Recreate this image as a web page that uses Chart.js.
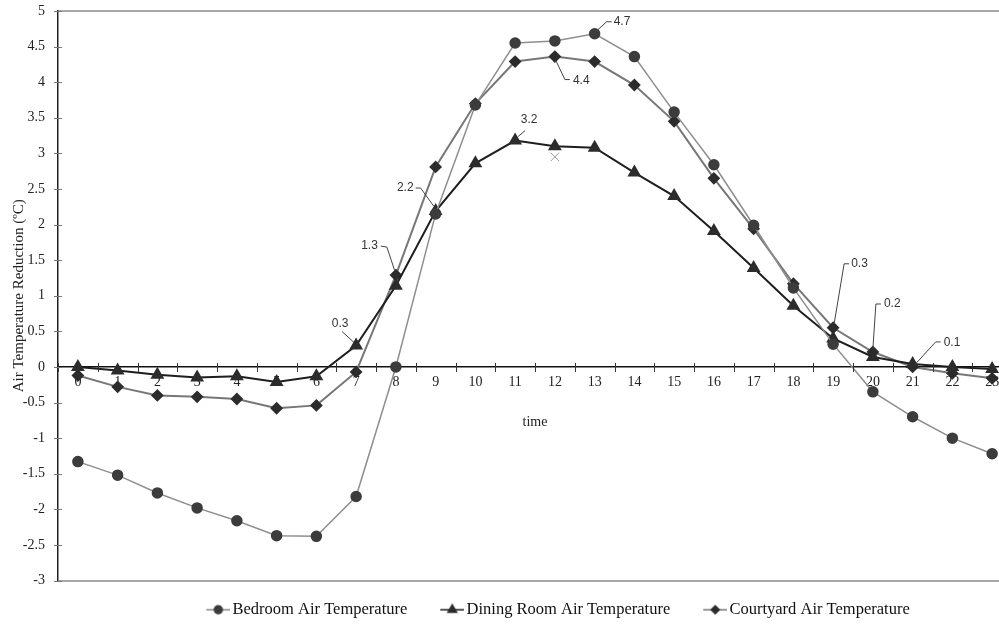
<!DOCTYPE html>
<html>
<head>
<meta charset="utf-8">
<script src="https://cdn.jsdelivr.net/npm/chart.js@4/dist/chart.umd.min.js"></script>
<style>
  html, body { margin: 0; padding: 0; background: #fff; overflow: hidden; }
  #wrap { width: 1020px; height: 624px; position: relative; }
</style>
</head>
<body>
<div id="wrap"><canvas id="chart"></canvas></div>
<script>
// heures de la journée
const hours = ['0','1','2','3','4','5','6','7','8','9','10','11','12','13','14','15','16','17','18','19','20','21','22','23'];

// valeurs (réduction de température, °C)
const bedroom = [-1.33, -1.52, -1.77, -1.98, -2.16, -2.37, -2.38, -1.82, 0.0, 2.15, 3.68, 4.55, 4.58, 4.68,
                 4.36, 3.58, 2.84, 1.99, 1.11, 0.32, -0.35, -0.70, -1.0, -1.22];
const diningRoom = [0.0, -0.05, -0.11, -0.15, -0.13, -0.21, -0.13, 0.30, 1.14, 2.19, 2.86, 3.18, 3.10, 3.08,
                    2.73, 2.40, 1.91, 1.39, 0.86, 0.40, 0.14, 0.04, 0.0, -0.03];
const courtyard = [-0.12, -0.28, -0.40, -0.42, -0.45, -0.58, -0.54, -0.07, 1.29, 2.81, 3.70, 4.29, 4.36, 4.29,
                   3.96, 3.45, 2.65, 1.94, 1.17, 0.55, 0.21, 0.0, -0.09, -0.16];
// petite croix isolée vers 12h
const strayMark = [null, null, null, null, null, null, null, null, null, null, null, null, 2.95];

const seriesNames = ['Bedroom Air Temperature', 'Dining Room Air Temperature', 'Courtyard Air Temperature'];
const yTicks = [-3, -2.5, -2, -1.5, -1, -0.5, 0, 0.5, 1, 1.5, 2, 2.5, 3, 3.5, 4, 4.5, 5];

// étiquettes de valeur : texte, série, index
const calloutText = ['4.7', '4.4', '3.2', '2.2', '1.3', '0.3', '0.3', '0.2', '0.1'];
const calloutSeries = [0, 2, 1, 1, 2, 1, 2, 2, 2];
const calloutIndex = [13, 12, 11, 9, 8, 7, 19, 20, 21];

// géométrie des traits de rappel (décalages en px par rapport au point)
// [debutX, debutY, coudeX, coudeY, finX, finY, texteX, texteY, alignement]
const leaderGeom = [
    [1, -2, 12, -12, 17, -12, 19, -12, 'left'],
    [1, 4, 10, 23, 15, 23, 18, 24, 'left'],
    [3, -4, 10, -10, 10, -10, 14, -21, 'center'],
    [-2, -5, -15, -23, -20, -23, -22, -23, 'right'],
    [-1, -4, -9, -28, -15, -29, -18, -29, 'right'],
    [-2, -3, -14, -14, -14, -14, -16, -22, 'center'],
    [1, -4, 11, -64, 16, -64, 18, -64, 'left'],
    [0, -3, 3, -48, 8, -48, 11, -48, 'left'],
    [2, -2, 23, -25, 28, -25, 31, -24, 'left']
];

const serif = 'Liberation Serif';

// icône de légende : trait + marqueur, calée à droite d'un canevas plus large
function legendIcon(style, lineColor, pointColor, radius) {
    const c = document.createElement('canvas');
    c.width = 53;
    c.height = 14;
    const g = c.getContext('2d');
    g.strokeStyle = lineColor;
    g.lineWidth = 1.5;
    g.beginPath();
    g.moveTo(29, 7);
    g.lineTo(53, 7);
    g.stroke();
    g.fillStyle = pointColor;
    g.strokeStyle = pointColor;
    Chart.helpers.drawPoint(g, { pointStyle: style, radius: radius, rotation: 0, borderWidth: 1 }, 41, 7);
    return c;
}

const icons = [
    legendIcon('circle', '#888', '#3c3c3c', 4),
    legendIcon('triangle', '#1e1e1e', '#2c2c2c', 5),
    legendIcon('rectRot', '#777', '#2c2c2c', 4)
];

// traits de graduation qui traversent les axes
const crossTicks = {
    id: 'crossTicks',
    afterDraw(chart) {
        const ctx = chart.ctx;
        const x = chart.scales.x, y = chart.scales.y;
        const y0 = y.getPixelForValue(0);
        const step = x.getPixelForValue(1) - x.getPixelForValue(0);
        ctx.save();
        ctx.strokeStyle = '#333';
        ctx.lineWidth = 1;
        for (let i = 0; i <= hours.length; i++) {
            const px = Math.round(x.getPixelForValue(0) + (i - 0.5) * step) + 0.5;
            ctx.beginPath();
            ctx.moveTo(px, y0 - 4);
            ctx.lineTo(px, y0 + 5);
            ctx.stroke();
        }
        ctx.strokeStyle = '#777';
        const left = chart.chartArea.left;
        yTicks.forEach(v => {
            const py = Math.round(y.getPixelForValue(v)) + 0.5;
            ctx.beginPath();
            ctx.moveTo(left - 4, py);
            ctx.lineTo(left + 4, py);
            ctx.stroke();
        });
        ctx.restore();
    }
};

// étiquettes avec traits de rappel
const callouts = {
    id: 'callouts',
    afterDatasetsDraw(chart) {
        const ctx = chart.ctx;
        ctx.save();
        ctx.font = '12px "Liberation Sans"';
        ctx.textBaseline = 'middle';
        calloutText.forEach((txt, k) => {
            const pt = chart.getDatasetMeta(calloutSeries[k]).data[calloutIndex[k]];
            const g = leaderGeom[k];
            ctx.strokeStyle = '#444';
            ctx.lineWidth = 1;
            ctx.beginPath();
            ctx.moveTo(pt.x + g[0], pt.y + g[1]);
            ctx.lineTo(pt.x + g[2], pt.y + g[3]);
            ctx.lineTo(pt.x + g[4], pt.y + g[5]);
            ctx.stroke();
            ctx.fillStyle = '#333';
            ctx.textAlign = g[8];
            ctx.fillText(txt, pt.x + g[6], pt.y + g[7]);
        });
        ctx.restore();
    }
};

// décale la légende vers la droite / le bas
const legendShift = {
    id: 'legendShift',
    afterLayout(chart) {
        const lg = chart.legend;
        lg.left += 37;
        lg.right += 37;
        lg.top += 11;
        lg.bottom += 11;
    }
};

const ctx = document.getElementById('chart').getContext('2d');
const tempChart = new Chart(ctx, {
    type: 'line',
    data: {
        labels: hours,
        datasets: [{
            label: seriesNames[0],
            data: bedroom,
            borderColor: '#8e8e8e',
            borderWidth: 1.5,
            pointStyle: 'circle',
            pointRadius: 5,
            pointBackgroundColor: '#3c3c3c',
            pointBorderColor: '#3c3c3c',
            tension: 0
        }, {
            label: seriesNames[1],
            data: diningRoom,
            borderColor: '#1e1e1e',
            borderWidth: 2,
            pointStyle: 'triangle',
            pointRadius: 6,
            pointBackgroundColor: '#2c2c2c',
            pointBorderColor: '#2c2c2c',
            tension: 0
        }, {
            label: seriesNames[2],
            data: courtyard,
            borderColor: '#777',
            borderWidth: 2,
            pointStyle: 'rectRot',
            pointRadius: 5,
            pointBackgroundColor: '#2c2c2c',
            pointBorderColor: '#2c2c2c',
            tension: 0
        }, {
            label: 'stray',
            data: strayMark,
            showLine: false,
            pointStyle: 'crossRot',
            pointRadius: 6,
            pointBorderColor: '#999',
            pointBorderWidth: 1
        }]
    },
    options: {
        responsive: true,
        maintainAspectRatio: false,
        animation: false,
        clip: false,
        layout: { padding: { top: 11, right: 1, bottom: 7, left: 0 } },
        plugins: {
            tooltip: { enabled: false },
            legend: {
                position: 'bottom',
                labels: {
                    usePointStyle: true,
                    pointStyleWidth: 41,
                    padding: 10,
                    color: '#111',
                    font: { family: serif, size: 16.5 },
                    generateLabels: (chart) => seriesNames.map((name, i) => ({
                        text: name,
                        pointStyle: icons[i],
                        fontColor: '#111',
                        datasetIndex: i,
                        lineWidth: 0,
                        hidden: false
                    }))
                }
            }
        },
        scales: {
            x: {
                type: 'category',
                offset: true,
                position: { y: 0 },
                afterFit: (scale) => { scale.paddingLeft = 0; scale.paddingRight = 0; },
                grid: { display: false, drawTicks: false },
                border: { display: true, color: '#111', width: 1.5 },
                ticks: {
                    padding: 7,
                    color: '#222',
                    maxRotation: 0,
                    autoSkip: false,
                    font: { family: serif, size: 14 }
                },
                title: {
                    display: true,
                    text: 'time',
                    color: '#222',
                    padding: { top: 16, bottom: 0 },
                    font: { family: serif, size: 14 }
                }
            },
            y: {
                min: -3,
                max: 5,
                afterFit: (scale) => { scale.width = 58; scale.paddingTop = 0; scale.paddingBottom = 0; },
                afterBuildTicks: (scale) => { scale.ticks = yTicks.map(v => ({ value: v })); },
                grid: {
                    drawTicks: false,
                    lineWidth: 2,
                    color: (c) => (c.tick && (c.tick.value === 5 || c.tick.value === -3)) ? '#a8a8a8' : 'rgba(0,0,0,0)'
                },
                border: { display: true, color: '#222', width: 1.5 },
                ticks: {
                    padding: 13,
                    color: '#222',
                    font: { family: serif, size: 14 },
                    callback: (v) => String(v)
                },
                title: {
                    display: true,
                    text: 'Air Temperature Reduction (ºC)',
                    color: '#222',
                    padding: { top: 10, bottom: 0 },
                    font: { family: serif, size: 15 }
                }
            }
        }
    },
    plugins: [crossTicks, callouts, legendShift]
});
</script>
</body>
</html>
